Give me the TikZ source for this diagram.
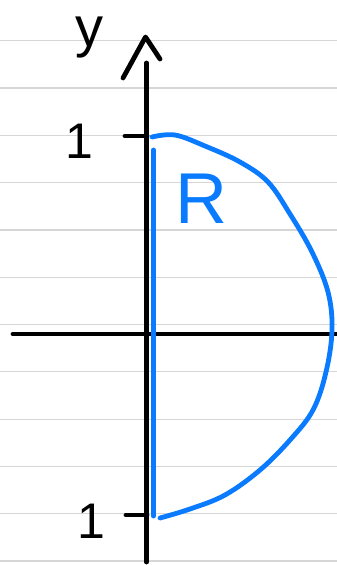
\documentclass[tikz,border=0pt]{standalone}
\usepackage{fontspec}
\setmainfont{Liberation Sans}
\definecolor{rule}{HTML}{D6D6D6}
\definecolor{ink}{HTML}{0A7BFF}
\tikzset{
  ruleline/.style={draw=rule, line width=1.2pt},
  axisline/.style={draw=black, line width=4.8pt, line cap=round, line join=round},
  blueline/.style={draw=ink, line width=4.8pt, line cap=round, line join=round},
  hand/.style={inner sep=0pt, font=\fontsize{60}{60}\selectfont}
}
\begin{document}
\begin{tikzpicture}[x=1pt,y=-1pt]
\useasboundingbox (0,0) rectangle (337,565);
\fill[white] (0,0) rectangle (337,565);
% ruled paper
\foreach \k in {0,...,11} {
  \draw[ruleline] (0,{40.7+47.3*\k}) -- (337,{40.7+47.3*\k});
}
% axes
\coordinate (ytop) at (146.7,63);
\coordinate (ybot) at (146.7,562);
\coordinate (xl) at (13,334);
\coordinate (xr) at (345,334);
\coordinate (al) at (123,78);
\coordinate (ap) at (145.5,37);
\coordinate (ar) at (160,59);
\draw[axisline] (ytop) -- (ybot);
\draw[axisline] (xl) -- (xr);
\draw[axisline] (al) -- (ap) -- (ar);
% ticks
\coordinate (t1a) at (125,136);
\coordinate (t1b) at (147,136);
\coordinate (t2a) at (126,515);
\coordinate (t2b) at (147,515);
\draw[axisline] (t1a) -- (t1b);
\draw[axisline] (t2a) -- (t2b);
% labels
\node[hand, anchor=base, font=\fontsize{56}{56}\selectfont] (ylab) at (89,46) {y};
\node[hand, anchor=base, font=\fontsize{50}{50}\selectfont] (one1) at (79,158) {1};
\node[hand, anchor=base, font=\fontsize{50}{50}\selectfont] (one2) at (91,538) {1};
\node[hand, anchor=base, text=ink, font=\fontsize{72}{72}\selectfont] (rlab) at (201,223) {R};
% region R
\coordinate (b1) at (153.5,150);
\coordinate (b2) at (153.5,516);
\draw[blueline] (b1) -- (b2);
\draw[blueline] plot[smooth, tension=0.6] coordinates {
 (152,137) (175,135) (205,146) (240,162) (268,182) (290,214) (312,252)
 (328,292) (332,330) (326,372) (313,410) (290,440) (260,470) (225,495)
 (190,509) (160,518)};
\end{tikzpicture}
\end{document}
